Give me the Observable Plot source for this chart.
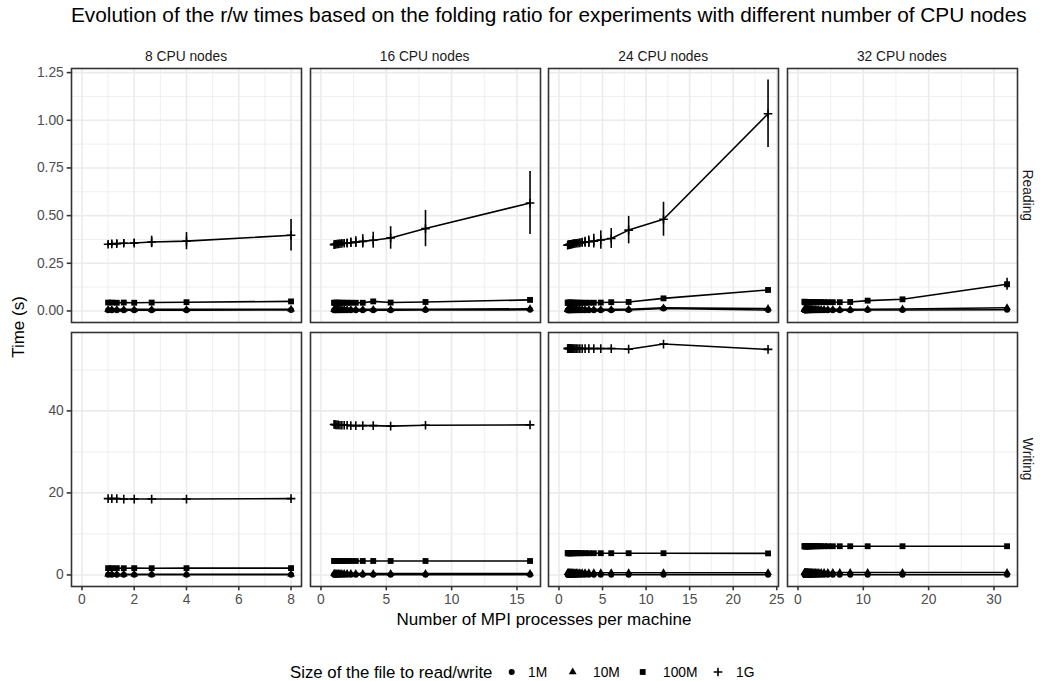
<!DOCTYPE html>
<html><head><meta charset="utf-8">
<script src="https://cdn.jsdelivr.net/npm/d3@7"></script>
<script src="https://cdn.jsdelivr.net/npm/@observablehq/plot@0.6"></script>
<style>
body{margin:0;background:#fff;}
#chart{position:relative;width:1040px;height:681px;background:#fff;overflow:hidden;font-family:"Liberation Sans",Arial,Helvetica,sans-serif;}
#chart svg{position:absolute;}
</style></head><body><div id="chart"></div>
<script>
// ---------- categories ----------
const ops = ["Reading", "Writing"];
const nodes = [8, 16, 24, 32];
const nodeLabels = ["8 CPU nodes", "16 CPU nodes", "24 CPU nodes", "32 CPU nodes"];
const sizes = ["1M", "10M", "100M", "1G"];

// ---------- x values: MPI processes per machine ----------
const procs8 = [1, 1.143, 1.333, 1.6, 2, 2.667, 4, 8];
const procs16 = [1, 1.067, 1.143, 1.231, 1.333, 1.455, 1.6, 1.778, 2, 2.286, 2.667, 3.2, 4, 5.333, 8, 16];
const procs24 = [1, 1.043, 1.091, 1.143, 1.2, 1.263, 1.333, 1.412, 1.5, 1.6, 1.714, 1.846, 2, 2.182, 2.4, 2.667, 3, 3.429, 4, 4.8, 6, 8, 12, 24];
const procs32 = [1, 1.032, 1.067, 1.103, 1.143, 1.185, 1.231, 1.28, 1.333, 1.391, 1.455, 1.524, 1.6, 1.684, 1.778, 1.882, 2, 2.133, 2.286, 2.462, 2.667, 2.909, 3.2, 3.556, 4, 4.571, 5.333, 6.4, 8, 10.667, 16, 32];

// ---------- Reading times (s) ----------
const read8_1M = [0.004, 0.004, 0.004, 0.004, 0.004, 0.004, 0.004, 0.005];
const read8_10M = [0.008, 0.008, 0.008, 0.008, 0.008, 0.008, 0.008, 0.009];
const read8_100M = [0.044, 0.044, 0.043, 0.044, 0.043, 0.044, 0.046, 0.050];
const read8_1G = [0.350, 0.352, 0.353, 0.355, 0.356, 0.362, 0.366, 0.397];
const err8_1G = [0.012, 0.014, 0.016, 0.018, 0.020, 0.030, 0.045, 0.083];

const read16_1M = [0.004, 0.004, 0.004, 0.004, 0.004, 0.004, 0.004, 0.004, 0.004, 0.004, 0.004, 0.004, 0.004, 0.004, 0.005, 0.006];
const read16_10M = [0.008, 0.008, 0.008, 0.008, 0.008, 0.008, 0.008, 0.008, 0.008, 0.008, 0.008, 0.008, 0.008, 0.008, 0.009, 0.011];
const read16_100M = [0.043, 0.043, 0.043, 0.043, 0.043, 0.043, 0.043, 0.043, 0.043, 0.043, 0.043, 0.043, 0.050, 0.044, 0.047, 0.058];
const read16_1G = [0.348, 0.349, 0.350, 0.351, 0.352, 0.353, 0.354, 0.355, 0.356, 0.358, 0.361, 0.365, 0.371, 0.383, 0.432, 0.566];
const err16_1G = [0.010, 0.011, 0.012, 0.013, 0.014, 0.015, 0.016, 0.018, 0.020, 0.024, 0.028, 0.035, 0.042, 0.059, 0.095, 0.165];

const read24_1M = [0.004, 0.004, 0.004, 0.004, 0.004, 0.004, 0.004, 0.004, 0.004, 0.004, 0.004, 0.004, 0.004, 0.004, 0.004, 0.004, 0.004, 0.004, 0.004, 0.004, 0.004, 0.005, 0.013, 0.005];
const read24_10M = [0.008, 0.008, 0.008, 0.008, 0.008, 0.008, 0.008, 0.008, 0.008, 0.008, 0.008, 0.008, 0.008, 0.008, 0.008, 0.008, 0.008, 0.008, 0.008, 0.008, 0.008, 0.009, 0.016, 0.013];
const read24_100M = [0.043, 0.043, 0.043, 0.043, 0.043, 0.043, 0.043, 0.043, 0.043, 0.043, 0.043, 0.043, 0.043, 0.043, 0.043, 0.043, 0.043, 0.043, 0.043, 0.044, 0.046, 0.047, 0.066, 0.110];
const read24_1G = [0.345, 0.346, 0.347, 0.347, 0.348, 0.349, 0.349, 0.350, 0.351, 0.352, 0.353, 0.354, 0.355, 0.356, 0.357, 0.359, 0.361, 0.363, 0.366, 0.372, 0.380, 0.424, 0.481, 1.034];
const err24_1G = [0.008, 0.009, 0.010, 0.010, 0.011, 0.011, 0.012, 0.012, 0.013, 0.014, 0.015, 0.016, 0.017, 0.018, 0.020, 0.022, 0.025, 0.030, 0.036, 0.048, 0.052, 0.072, 0.089, 0.177];

const read32_1M = [0.004, 0.004, 0.004, 0.004, 0.004, 0.004, 0.004, 0.004, 0.004, 0.004, 0.004, 0.004, 0.004, 0.004, 0.004, 0.004, 0.004, 0.004, 0.004, 0.004, 0.004, 0.004, 0.004, 0.004, 0.004, 0.004, 0.004, 0.004, 0.004, 0.005, 0.005, 0.006];
const read32_10M = [0.008, 0.008, 0.008, 0.008, 0.008, 0.008, 0.008, 0.008, 0.008, 0.008, 0.008, 0.008, 0.008, 0.008, 0.008, 0.008, 0.008, 0.008, 0.008, 0.008, 0.008, 0.008, 0.008, 0.008, 0.008, 0.008, 0.008, 0.008, 0.008, 0.009, 0.010, 0.017];
const read32_100M = [0.048, 0.048, 0.046, 0.046, 0.046, 0.046, 0.046, 0.046, 0.046, 0.046, 0.046, 0.046, 0.046, 0.046, 0.046, 0.046, 0.046, 0.046, 0.046, 0.046, 0.046, 0.046, 0.046, 0.046, 0.046, 0.046, 0.046, 0.046, 0.047, 0.054, 0.061, 0.140];
const err32_100M = [0.003, 0.003, 0.003, 0.003, 0.003, 0.003, 0.003, 0.003, 0.003, 0.003, 0.003, 0.003, 0.003, 0.003, 0.003, 0.003, 0.003, 0.003, 0.003, 0.003, 0.003, 0.003, 0.003, 0.003, 0.003, 0.003, 0.003, 0.003, 0.004, 0.005, 0.006, 0.032];

// ---------- Writing times (s) ----------
const write8_1M = [0.03, 0.03, 0.03, 0.03, 0.03, 0.03, 0.03, 0.03];
const write8_10M = [0.18, 0.18, 0.18, 0.18, 0.18, 0.18, 0.18, 0.18];
const write8_100M = [1.66, 1.65, 1.65, 1.64, 1.65, 1.64, 1.65, 1.66];
const write8_1G = [18.6, 18.6, 18.6, 18.5, 18.5, 18.5, 18.5, 18.6];

const write16_1M = [0.03, 0.03, 0.03, 0.03, 0.03, 0.03, 0.03, 0.03, 0.03, 0.03, 0.03, 0.03, 0.03, 0.03, 0.03, 0.03];
const write16_10M = [0.35, 0.35, 0.35, 0.35, 0.35, 0.35, 0.35, 0.35, 0.35, 0.35, 0.35, 0.35, 0.35, 0.35, 0.35, 0.35];
const write16_100M = [3.4, 3.4, 3.4, 3.4, 3.4, 3.4, 3.4, 3.4, 3.4, 3.4, 3.4, 3.4, 3.4, 3.4, 3.4, 3.4];
const write16_1G = [36.7, 36.7, 36.6, 36.6, 36.6, 36.5, 36.5, 36.5, 36.5, 36.4, 36.4, 36.4, 36.4, 36.3, 36.5, 36.6];

const write24_1M = [0.06, 0.06, 0.06, 0.06, 0.06, 0.06, 0.06, 0.06, 0.06, 0.06, 0.06, 0.06, 0.06, 0.06, 0.06, 0.06, 0.06, 0.06, 0.06, 0.06, 0.06, 0.06, 0.06, 0.06];
const write24_10M = [0.55, 0.55, 0.55, 0.55, 0.55, 0.55, 0.55, 0.55, 0.55, 0.55, 0.55, 0.55, 0.55, 0.55, 0.55, 0.55, 0.55, 0.55, 0.55, 0.55, 0.55, 0.55, 0.55, 0.55];
const write24_100M = [5.3, 5.3, 5.3, 5.3, 5.3, 5.3, 5.3, 5.3, 5.3, 5.3, 5.3, 5.3, 5.3, 5.3, 5.3, 5.3, 5.3, 5.3, 5.3, 5.3, 5.3, 5.3, 5.3, 5.25];
const write24_1G = [55.2, 55.2, 55.2, 55.2, 55.2, 55.2, 55.2, 55.2, 55.2, 55.2, 55.2, 55.2, 55.2, 55.2, 55.2, 55.2, 55.2, 55.2, 55.2, 55.2, 55.2, 55.05, 56.3, 55.0];

const write32_1M = [0.05, 0.05, 0.05, 0.05, 0.05, 0.05, 0.05, 0.05, 0.05, 0.05, 0.05, 0.05, 0.05, 0.05, 0.05, 0.05, 0.05, 0.05, 0.05, 0.05, 0.05, 0.05, 0.05, 0.05, 0.05, 0.05, 0.05, 0.05, 0.05, 0.05, 0.05, 0.05];
const write32_10M = [0.6, 0.6, 0.6, 0.6, 0.6, 0.6, 0.6, 0.6, 0.6, 0.6, 0.6, 0.6, 0.6, 0.6, 0.6, 0.6, 0.6, 0.6, 0.6, 0.6, 0.6, 0.6, 0.6, 0.6, 0.6, 0.6, 0.6, 0.6, 0.6, 0.6, 0.6, 0.6];
const write32_100M = [7.0, 7.0, 7.0, 7.0, 7.0, 7.0, 7.0, 7.0, 7.0, 7.0, 7.0, 7.0, 7.0, 7.0, 7.0, 7.0, 7.0, 7.0, 7.0, 7.0, 7.0, 7.0, 7.0, 7.0, 7.0, 7.0, 7.0, 7.0, 7.0, 7.0, 7.0, 7.0];

// ---------- ticks ----------
const xMajor = [[0, 2, 4, 6, 8], [0, 5, 10, 15], [0, 5, 10, 15, 20, 25], [0, 10, 20, 30]];
const xMinor = [[1, 3, 5, 7], [2.5, 7.5, 12.5], [2.5, 7.5, 12.5, 17.5, 22.5], [5, 15, 25]];
const yMajor = [[0, 0.25, 0.5, 0.75, 1, 1.25], [0, 20, 40]];
const yMinor = [[0.125, 0.375, 0.625, 0.875, 1.125], [10, 30, 50]];
const yFormats = [".2f", "d"];

// ---------- tables built from the arrays ----------
const procsBy = {8: procs8, 16: procs16, 24: procs24, 32: procs32};
const seriesBy = {
  Reading: {8: [read8_1M, read8_10M, read8_100M, read8_1G], 16: [read16_1M, read16_10M, read16_100M, read16_1G],
            24: [read24_1M, read24_10M, read24_100M, read24_1G], 32: [read32_1M, read32_10M, read32_100M, null]},
  Writing: {8: [write8_1M, write8_10M, write8_100M, write8_1G], 16: [write16_1M, write16_10M, write16_100M, write16_1G],
            24: [write24_1M, write24_10M, write24_100M, write24_1G], 32: [write32_1M, write32_10M, write32_100M, null]}
};
const errBy = {
  Reading: {8: [[read8_1G, err8_1G]], 16: [[read16_1G, err16_1G]], 24: [[read24_1G, err24_1G]], 32: [[read32_100M, err32_100M]]},
  Writing: {8: [], 16: [], 24: [], 32: []}
};

// ---------- layout ----------
const panelLefts = [71, 309.6, 548.2, 786.8];
const panelTops = [68.3, 332.2];
const panelW = 230, panelH = 254;
const xDomains = [[-0.4, 8.4], [-0.8, 16.8], [-1.2, 25.2], [-1.6, 33.6]];
const yDomains = [[-0.0606, 1.2716], [-2.82, 59.12]];
const FONT = "'Liberation Sans', Arial, Helvetica, sans-serif";
const LW = 1.6;
const chart = document.getElementById("chart");

function drawPanel(row, col) {
  const op = ops[row], n = nodes[col];
  const xs = procsBy[n];
  const rows = [];
  seriesBy[op][n].forEach((ys, i) => {
    if (!ys) return;
    ys.forEach((y, j) => rows.push({size: sizes[i], x: xs[j], y}));
  });
  const errs = [];
  errBy[op][n].forEach(([ys, es]) => ys.forEach((y, j) => errs.push({x: xs[j], lo: y - es[j], hi: y + es[j]})));
  const of = s => rows.filter(d => d.size === s);

  const ml = col === 0 ? 55 : 6, mr = 6, mt = 6, mb = row === 1 ? 30 : 6;
  const marks = [
    Plot.ruleX(xMinor[col], {stroke: "#EBEBEB", strokeWidth: 0.8}),
    Plot.ruleY(yMinor[row], {stroke: "#EBEBEB", strokeWidth: 0.8}),
    Plot.ruleX(xMajor[col], {stroke: "#EBEBEB", strokeWidth: LW}),
    Plot.ruleY(yMajor[row], {stroke: "#EBEBEB", strokeWidth: LW}),
    Plot.line(rows, {x: "x", y: "y", z: "size", stroke: "black", strokeWidth: LW}),
    Plot.ruleX(errs, {x: "x", y1: "lo", y2: "hi", stroke: "black", strokeWidth: LW}),
    Plot.dot(of("1M"), {x: "x", y: "y", symbol: "circle", r: 3.0, fill: "black"}),
    Plot.dot(of("10M"), {x: "x", y: "y", symbol: "triangle", r: 2.9, fill: "black"}),
    Plot.dot(of("100M"), {x: "x", y: "y", symbol: "square", r: 3.3, fill: "black"}),
    Plot.dot(of("1G"), {x: "x", y: "y", symbol: "plus", r: 2.9, stroke: "black", fill: "none", strokeWidth: LW}),
    Plot.frame({stroke: "#333333", strokeWidth: LW})
  ];
  if (row === 1) marks.push(Plot.axisX(xMajor[col], {tickSize: 4.3, tickPadding: 3.4, tickFormat: "d", fontSize: 13.8, color: "#4D4D4D", stroke: "#333333", strokeWidth: LW, label: null}));
  if (col === 0) marks.push(Plot.axisY(yMajor[row], {tickSize: 4.3, tickPadding: 3.4, tickFormat: yFormats[row], fontSize: 13.8, color: "#4D4D4D", stroke: "#333333", strokeWidth: LW, label: null}));

  const svg = Plot.plot({
    width: panelW + ml + mr, height: panelH + mt + mb,
    marginLeft: ml, marginRight: mr, marginTop: mt, marginBottom: mb,
    x: Object.assign({domain: xDomains[col], label: null}, row === 1 ? {} : {axis: null}),
    y: Object.assign({domain: yDomains[row], label: null}, col === 0 ? {} : {axis: null}),
    style: {background: "transparent", fontFamily: FONT, overflow: "visible"},
    marks
  });
  svg.style.left = (panelLefts[col] - ml) + "px";
  svg.style.top = (panelTops[row] - mt) + "px";
  svg.style.maxWidth = "none";
  chart.appendChild(svg);
}
for (let r = 0; r < 2; r++) for (let c = 0; c < 4; c++) drawPanel(r, c);

// ---------- texts & legend ----------
const ov = d3.create("svg").attr("width", 1040).attr("height", 681)
  .style("left", "0px").style("top", "0px").style("font-family", FONT).style("pointer-events", "none");
ov.append("text").attr("x", 71).attr("y", 21.5).attr("font-size", 20.8).attr("fill", "black")
  .text("Evolution of the r/w times based on the folding ratio for experiments with different number of CPU nodes");
nodeLabels.forEach((t, i) => ov.append("text").attr("x", panelLefts[i] + panelW / 2).attr("y", 56).attr("dy", "0.35em")
  .attr("text-anchor", "middle").attr("font-size", 13.8).attr("fill", "#1A1A1A").text(t));
ops.forEach((t, i) => ov.append("text").attr("transform", `translate(1028,${panelTops[i] + panelH / 2}) rotate(90)`)
  .attr("dy", "0.35em").attr("text-anchor", "middle").attr("font-size", 13.8).attr("fill", "#1A1A1A").text(t));
ov.append("text").attr("transform", "translate(18,327) rotate(-90)").attr("dy", "0.35em").attr("text-anchor", "middle")
  .attr("font-size", 17).attr("fill", "black").text("Time (s)");
ov.append("text").attr("x", 544).attr("y", 619).attr("dy", "0.35em").attr("text-anchor", "middle")
  .attr("font-size", 17).attr("fill", "black").text("Number of MPI processes per machine");

const legY = 672;
ov.append("text").attr("x", 290).attr("y", legY).attr("dy", "0.35em").attr("font-size", 16.8).attr("fill", "black")
  .text("Size of the file to read/write");
const legSymX = [511.7, 572.7, 642.7, 718];
const legLabX = [528, 593, 663, 736];
const legTypes = [[d3.symbolCircle, 3.0, true], [d3.symbolTriangle, 2.9, true], [d3.symbolSquare, 3.3, true], [d3.symbolPlus, 2.9, false]];
sizes.forEach((s, i) => {
  const [type, r, filled] = legTypes[i];
  ov.append("path").attr("transform", `translate(${legSymX[i]},${legY})`)
    .attr("d", d3.symbol(type, Math.PI * r * r)())
    .attr("fill", filled ? "black" : "none").attr("stroke", filled ? "none" : "black").attr("stroke-width", LW);
  ov.append("text").attr("x", legLabX[i]).attr("y", legY).attr("dy", "0.35em").attr("font-size", 13.8).attr("fill", "black").text(s);
});
chart.appendChild(ov.node());
</script></body></html>
